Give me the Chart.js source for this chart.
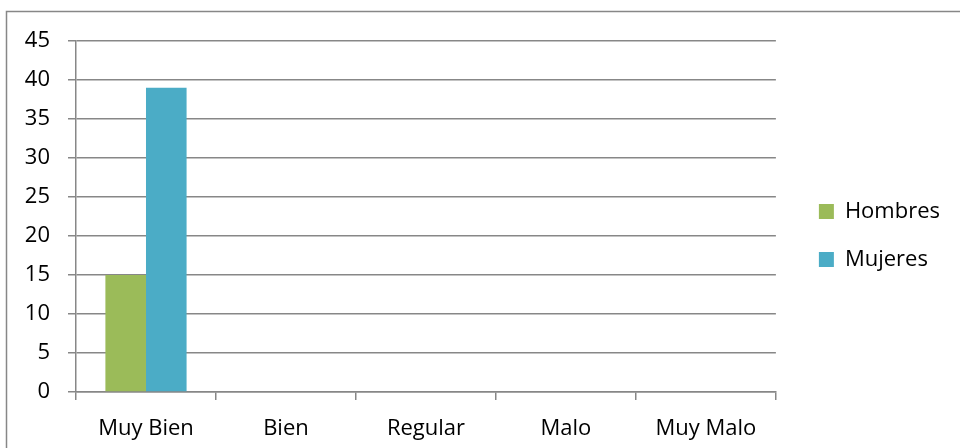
<!DOCTYPE html>
<html>
<head>
<meta charset="utf-8">
<script src="https://cdn.jsdelivr.net/npm/chart.js@4"></script>
<style>
  html, body { margin: 0; padding: 0; background: #ffffff; }
  #wrap { width: 960px; height: 448px; }
</style>
</head>
<body>
<div id="wrap"><canvas id="barChart" width="960" height="448"></canvas></div>
<script>
const categories = ["Muy Bien", "Bien", "Regular", "Malo", "Muy Malo"];
const hombres = [15, 0, 0, 0, 0];
const mujeres = [39, 0, 0, 0, 0];
const yTicks = [0, 5, 10, 15, 20, 25, 30, 35, 40, 45];

const lineGray = "#878787";
const font = { family: "'Open Sans', sans-serif", size: 22 };

// frame around the whole chart (only top and left edges fall inside the canvas)
const framePlugin = {
    id: "frame",
    beforeDraw(chart) {
        const ctx = chart.ctx;
        ctx.save();
        ctx.fillStyle = "#ffffff";
        ctx.fillRect(0, 0, chart.width, chart.height);
        ctx.strokeStyle = lineGray;
        ctx.lineWidth = 1.5;
        ctx.strokeRect(6.5, 11.5, chart.width + 20, chart.height + 20);
        ctx.restore();
    }
};

document.addEventListener("DOMContentLoaded", () => {
    const ctx = document.getElementById("barChart");

    new Chart(ctx, {
        type: "bar",
        data: {
            labels: categories,
            datasets: [
                { label: "Hombres", data: hombres, backgroundColor: "#9BBB59" },
                { label: "Mujeres", data: mujeres, backgroundColor: "#4BACC6" }
            ]
        },
        options: {
            responsive: false,
            animation: false,
            layout: { padding: { top: 23, right: 10, bottom: 0, left: 0 } },
            categoryPercentage: 0.58,
            barPercentage: 1,
            plugins: {
                legend: {
                    position: "right",
                    labels: {
                        font: font,
                        color: "#000000",
                        boxWidth: 15,
                        boxHeight: 15,
                        padding: 26
                    }
                },
                tooltip: { enabled: false }
            },
            scales: {
                x: {
                    grid: {
                        offset: true,
                        drawOnChartArea: false,
                        drawTicks: true,
                        tickLength: 8,
                        color: lineGray,
                        lineWidth: 1.5
                    },
                    border: { color: lineGray, width: 1.5 },
                    ticks: { font: font, color: "#000000", padding: 16, maxRotation: 0 },
                    afterFit(scale) { scale.height = 56; }
                },
                y: {
                    min: 0,
                    max: 45,
                    afterBuildTicks(scale) { scale.ticks = yTicks.map(v => ({ value: v })); },
                    grid: { color: lineGray, tickLength: 8, lineWidth: 1.5 },
                    border: { color: lineGray, width: 1.5 },
                    ticks: { font: font, color: "#000000", padding: 18 },
                    afterFit(scale) {
                        scale.width = 76;
                        scale.paddingTop = 41;
                    }
                },
                // empty axis that keeps the legend away from the plot
                gap: {
                    type: "linear",
                    position: "right",
                    display: true,
                    grid: { display: false, drawTicks: false },
                    border: { display: false },
                    ticks: { display: false },
                    afterFit(scale) { scale.width = 17; }
                }
            }
        },
        plugins: [framePlugin]
    });
});
</script>
</body>
</html>
